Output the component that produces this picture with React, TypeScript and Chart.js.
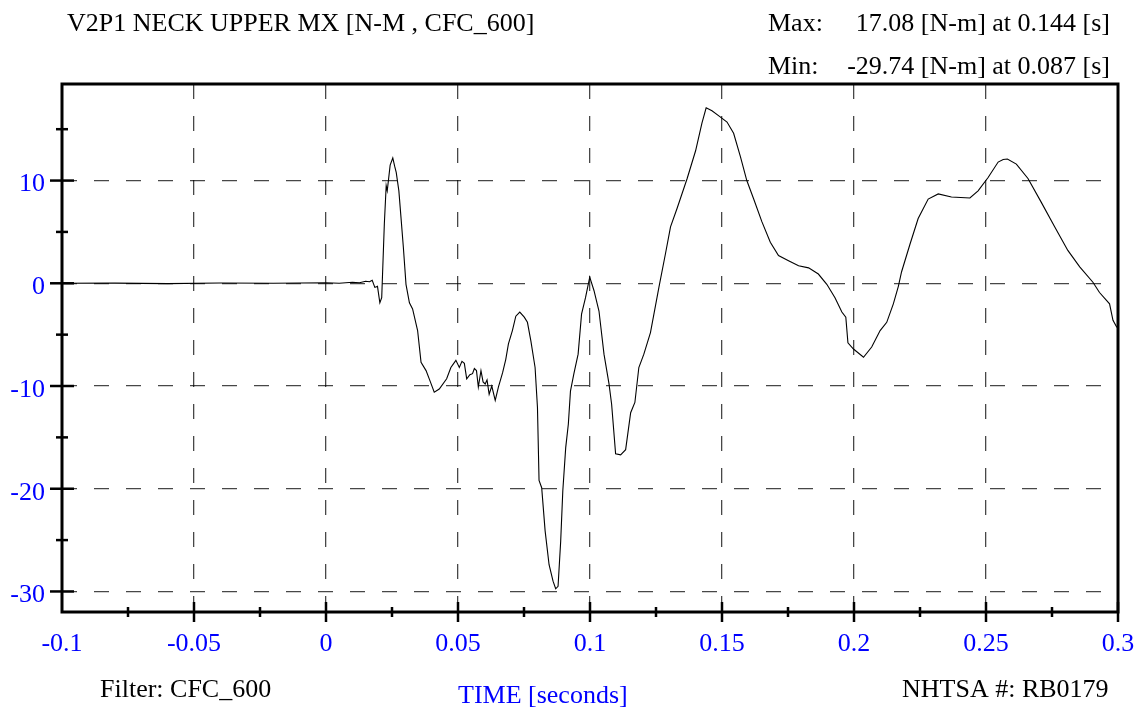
import React, { useEffect, useRef } from "react";
import { Chart, registerables } from "chart.js";

Chart.register(...registerables);

// ---- data ----
const times: number[] = [
  -0.1, -0.08, -0.06, -0.04, -0.02, 0.0, 0.005, 0.01, 0.0127, 0.015, 0.0165, 0.0175, 0.0185, 0.0195,
  0.0204, 0.0211, 0.0221, 0.0228, 0.0232, 0.0243, 0.0253, 0.026, 0.0266, 0.0276, 0.0285, 0.0293,
  0.0303, 0.0316, 0.0328, 0.0347, 0.036, 0.0379, 0.0394, 0.041, 0.0429, 0.0457, 0.0473, 0.0492,
  0.0505, 0.0515, 0.0524, 0.0533, 0.0545, 0.0555, 0.0562, 0.057, 0.0577, 0.0587, 0.0595, 0.0603,
  0.061, 0.0618, 0.0628, 0.0641, 0.0653, 0.0669, 0.0681, 0.0691, 0.0706, 0.0719, 0.0734, 0.0751,
  0.0763, 0.0776, 0.0792, 0.0801, 0.0807, 0.0817, 0.083, 0.0845, 0.086, 0.087, 0.0879, 0.0889,
  0.0897, 0.0908, 0.0918, 0.0926, 0.0939, 0.0955, 0.0968, 0.0983, 0.0999, 0.1015, 0.1034, 0.1053,
  0.1072, 0.1082, 0.1097, 0.1116, 0.1135, 0.1154, 0.117, 0.1185, 0.1204, 0.1229, 0.1261, 0.1286,
  0.1305, 0.133, 0.1368, 0.14, 0.1424, 0.144, 0.1462, 0.1488, 0.1519, 0.1544, 0.157, 0.1594,
  0.162, 0.1651, 0.1683, 0.1714, 0.1752, 0.179, 0.1828, 0.1865, 0.1897, 0.1928, 0.1954, 0.1969,
  0.1977, 0.1998, 0.2036, 0.2067, 0.2099, 0.2124, 0.2149, 0.2168, 0.218, 0.2212, 0.2243, 0.2281,
  0.2319, 0.2369, 0.2439, 0.247, 0.2508, 0.2546, 0.2565, 0.2581, 0.2615, 0.2659, 0.2709, 0.276,
  0.281, 0.2855, 0.2905, 0.293, 0.2968, 0.2981, 0.2996,
];

const moment: number[] = [
  0, 0.02, -0.03, 0.03, 0, 0.05, 0, 0.1, 0.05, 0.2, 0.15, 0.3, -0.4, -0.3,
  -1.9, -1.4, 5.8, 9.5, 9.0, 11.5, 12.2, 11.4, 10.8, 9.0, 6.1, 3.5,
  -0.1, -1.9, -2.5, -4.6, -7.7, -8.5, -9.5, -10.6, -10.3, -9.3, -8.2, -7.5,
  -8.2, -7.6, -7.8, -9.3, -8.9, -8.8, -8.3, -8.5, -10.1, -8.5, -9.6, -9.8,
  -9.4, -10.8, -10.0, -11.4, -10.1, -8.7, -7.4, -5.9, -4.6, -3.2, -2.8, -3.3,
  -3.8, -5.6, -8.2, -12.1, -19.2, -19.9, -24.1, -27.4, -29.0, -29.74, -29.5, -25.1,
  -20.2, -16.0, -13.7, -10.5, -8.8, -6.9, -3.0, -1.4, 0.6, -0.7, -2.7, -6.9,
  -9.8, -11.8, -16.6, -16.7, -16.2, -12.6, -11.6, -8.2, -6.9, -4.8, -0.4, 2.9,
  5.5, 7.3, 10.2, 12.9, 15.6, 17.08, 16.8, 16.3, 15.7, 14.6, 12.3, 10.0,
  8.2, 6.0, 4.0, 2.7, 2.2, 1.7, 1.5, 0.9, -0.1, -1.4, -2.8, -3.3,
  -5.8, -6.4, -7.2, -6.2, -4.6, -3.8, -2.0, -0.3, 1.1, 3.8, 6.3, 8.2,
  8.7, 8.4, 8.3, 9.0, 10.3, 11.8, 12.05, 12.1, 11.6, 10.2, 7.9, 5.5,
  3.2, 1.6, 0.1, -0.9, -2.0, -3.6, -4.3,
];

const xMajorTicks: number[] = [-0.1, -0.05, 0, 0.05, 0.1, 0.15, 0.2, 0.25, 0.3];
const xMinorTicks: number[] = [-0.075, -0.025, 0.025, 0.075, 0.125, 0.175, 0.225, 0.275];
const yMajorTicks: number[] = [-30, -20, -10, 0, 10];
const yMinorTicks: number[] = [-25, -15, -5, 5, 15];

const titleText = "V2P1 NECK UPPER MX [N-M , CFC_600]";
const maxLabel = "Max:";
const maxValue = "17.08 [N-m] at 0.144 [s]";
const minLabel = "Min:";
const minValue = "-29.74 [N-m] at 0.087 [s]";
const filterText = "Filter: CFC_600";
const xAxisTitle = "TIME [seconds]";
const idText = "NHTSA #: RB0179";

const FONT = "'Liberation Serif', 'Times New Roman', serif";
const BLUE = "#0000ff";

const annotatePlugin = {
  id: "annotate",
  afterDraw(chart: any) {
    const { ctx, chartArea, scales } = chart;
    const xs = scales.x;
    const ys = scales.y;
    ctx.save();
    // box
    ctx.strokeStyle = "#000";
    ctx.lineWidth = 3;
    ctx.strokeRect(chartArea.left, chartArea.top, chartArea.right - chartArea.left, chartArea.bottom - chartArea.top);
    // x ticks
    ctx.lineWidth = 2.5;
    const b = chartArea.bottom;
    xMajorTicks.forEach((v, i) => {
      if (i === 0) return;
      const px = xs.getPixelForValue(v);
      ctx.beginPath();
      ctx.moveTo(px, b - 10);
      ctx.lineTo(px, b + 10);
      ctx.stroke();
    });
    xMinorTicks.forEach((v) => {
      const px = xs.getPixelForValue(v);
      ctx.beginPath();
      ctx.moveTo(px, b - 5);
      ctx.lineTo(px, b + 5);
      ctx.stroke();
    });
    const l = chartArea.left;
    yMajorTicks.forEach((v) => {
      const py = ys.getPixelForValue(v);
      ctx.beginPath();
      ctx.moveTo(l - 12, py);
      ctx.lineTo(l + 12, py);
      ctx.stroke();
    });
    yMinorTicks.forEach((v) => {
      const py = ys.getPixelForValue(v);
      ctx.beginPath();
      ctx.moveTo(l - 6, py);
      ctx.lineTo(l + 6, py);
      ctx.stroke();
    });
    // texts
    ctx.font = `26px ${FONT}`;
    ctx.textBaseline = "alphabetic";
    ctx.fillStyle = "#000";
    ctx.textAlign = "left";
    ctx.fillText(titleText, 67, 31);
    ctx.fillText(maxLabel, 768, 31);
    ctx.fillText(minLabel, 768, 74);
    ctx.fillText(filterText, 100, 697);
    ctx.fillText(idText, 902, 697);
    ctx.textAlign = "right";
    ctx.fillText(maxValue, 1110, 31);
    ctx.fillText(minValue, 1110, 74);
    ctx.textAlign = "left";
    ctx.fillStyle = BLUE;
    ctx.fillText(xAxisTitle, 458, 703);
    ctx.restore();
  },
};

export default function App() {
  const ref = useRef<HTMLCanvasElement | null>(null);
  useEffect(() => {
    if (!ref.current) return;
    const majorX = (v: number) => xMajorTicks.some((m) => Math.abs(m - v) < 1e-9);
    const chart = new Chart(ref.current, {
      type: "line",
      data: {
        datasets: [
          {
            data: times.map((t, i) => ({ x: t, y: moment[i] })),
            borderColor: "#000",
            borderWidth: 1.1,
            pointRadius: 0,
            tension: 0,
            fill: false,
          },
        ],
      },
      options: {
        animation: false,
        responsive: false,
        devicePixelRatio: 1,
        layout: { padding: { left: 0, top: 84, right: 26, bottom: 0 } },
        plugins: { legend: { display: false }, tooltip: { enabled: false }, title: { display: false } },
        scales: {
          x: {
            type: "linear",
            min: -0.1,
            max: 0.3,
            afterFit(scale: any) {
              scale.height = 96;
              scale.paddingLeft = 0;
              scale.paddingRight = 0;
            },
            ticks: {
              stepSize: 0.05,
              includeBounds: false,
              padding: 17,
              maxRotation: 0,
              autoSkip: false,
              color: BLUE,
              font: { family: FONT, size: 26 },
              callback: (v: any) => String(parseFloat(Number(v).toFixed(3))),
            },
            grid: {
              drawTicks: false,
              color: (c: any) => {
                const v = c.tick ? c.tick.value : NaN;
                if (Math.abs(v + 0.1) < 1e-9 || Math.abs(v - 0.3) < 1e-9) return "rgba(0,0,0,0)";
                return majorX(v) ? "rgba(0,0,0,0.72)" : "rgba(0,0,0,0)";
              },
              lineWidth: 1.3,
            },
            border: { display: false, dash: [15, 17] },
          },
          y: {
            type: "linear",
            min: -32,
            max: 19.4,
            afterFit(scale: any) {
              scale.width = 62;
              scale.paddingTop = 0;
              scale.paddingBottom = 0;
            },
            ticks: {
              stepSize: 10,
              includeBounds: false,
              padding: 17,
              labelOffset: 4,
              color: BLUE,
              font: { family: FONT, size: 26 },
              callback: (v: any) => String(Math.round(Number(v))),
            },
            grid: {
              drawTicks: false,
              color: "rgba(0,0,0,0.72)",
              lineWidth: 1.3,
            },
            border: { display: false, dash: [15, 17] },
          },
        },
      },
      plugins: [annotatePlugin],
    } as any);
    return () => chart.destroy();
  }, []);
  return (
    <div style={{ position: "absolute", left: 0, top: 0, width: 1144, height: 708, background: "#fff" }}>
      <canvas ref={ref} width={1144} height={708} style={{ width: 1144, height: 708, display: "block" }} />
    </div>
  );
}
